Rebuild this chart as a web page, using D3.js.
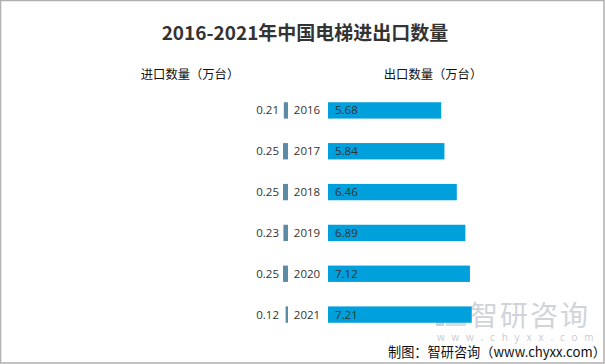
<!DOCTYPE html>
<html><head><meta charset="utf-8">
<script src="https://cdn.jsdelivr.net/npm/d3@7"></script>
<style>
html,body{margin:0;padding:0;background:#fff;}
svg{display:block;}
</style></head>
<body>
<svg id="chart" width="605" height="364"></svg>
<script>
const years = ["2016","2017","2018","2019","2020","2021"];
const importVals = [0.21,0.25,0.25,0.23,0.25,0.12];
const exportVals = [5.68,5.84,6.46,6.89,7.12,7.21];
const titleText = "2016-2021年中国电梯进出口数量";
const importTitle = "进口数量（万台）";
const exportTitle = "出口数量（万台）";
const sourceText = "制图：智研咨询（www.chyxx.com）";

const svg = d3.select("#chart");
const W = 605, H = 364;
const font = "'Noto Sans CJK SC','Noto Sans',sans-serif";
const numFont = "'Open Sans','Noto Sans',sans-serif";

svg.append("rect").attr("x",0.5).attr("y",0.5).attr("width",W-1.5).attr("height",H-1.5)
  .attr("fill","#fff").attr("stroke","#b0b0b0").attr("stroke-width",1.5);

// watermark
const wm = svg.append("g");
wm.append("rect").attr("x",436).attr("y",308).attr("width",28).attr("height",7).attr("fill","#c9d3dd");
wm.append("rect").attr("x",436).attr("y",318).attr("width",8).attr("height",8).attr("fill","#c9d3dd");
wm.append("rect").attr("x",446).attr("y",318).attr("width",20).attr("height",8).attr("fill","#d6dde5");
wm.append("text").attr("x",470).attr("y",326).attr("font-family",font).attr("font-size",28)
  .attr("fill","#d0d4da").attr("letter-spacing",2).text("智研咨询");
wm.append("text").attr("x",437).attr("y",341).attr("font-family",numFont).attr("font-size",10)
  .attr("fill","#c8ccd2").attr("letter-spacing",6.8).text("www.chyxx.com");

svg.append("text").attr("x",305).attr("y",40).attr("text-anchor","middle")
  .attr("font-family",font).attr("font-weight",700).attr("font-size",19).attr("fill","#333")
  .text(titleText);

svg.append("text").attr("x",190).attr("y",79).attr("text-anchor","middle")
  .attr("font-family",font).attr("font-size",12.3).attr("fill","#111").text(importTitle);
svg.append("text").attr("x",433).attr("y",79).attr("text-anchor","middle")
  .attr("font-family",font).attr("font-size",12.3).attr("fill","#111").text(exportTitle);

const y = d3.scaleBand().domain(years).range([90,335]).paddingInner(0.6).paddingOuter(0.3);
const xE = d3.scaleLinear().domain([0,8]).range([0,159.5]);
const exportX0 = 328, importX0 = 288;

const rows = svg.append("g").selectAll("g").data(years).join("g");

rows.append("rect")
  .attr("x",exportX0).attr("y",d=>y(d)).attr("height",y.bandwidth())
  .attr("width",(d,i)=>xE(exportVals[i])).attr("fill","#00a0dc");
rows.append("rect")
  .attr("x",(d,i)=>importX0-Math.max(2,xE(importVals[i])))
  .attr("y",d=>y(d)).attr("height",y.bandwidth())
  .attr("width",(d,i)=>Math.max(2,xE(importVals[i]))).attr("fill","#5b8ba5");

rows.append("text").attr("x",exportX0+7).attr("y",d=>y(d)+y.bandwidth()/2).attr("dy","0.35em")
  .attr("font-family",numFont).attr("font-size",11.5).attr("fill","#333")
  .text((d,i)=>exportVals[i].toFixed(2));
rows.append("text").attr("x",307).attr("y",d=>y(d)+y.bandwidth()/2).attr("dy","0.35em")
  .attr("text-anchor","middle").attr("font-family",numFont).attr("font-size",11.5).attr("fill","#333")
  .text(d=>d);
rows.append("text").attr("x",279).attr("y",d=>y(d)+y.bandwidth()/2).attr("dy","0.35em")
  .attr("text-anchor","end").attr("font-family",numFont).attr("font-size",11.5).attr("fill","#333")
  .text((d,i)=>importVals[i].toFixed(2));

svg.append("text").attr("x",388).attr("y",357).attr("text-anchor","start")
  .attr("font-family",font).attr("font-size",13.2).attr("fill","#111").text(sourceText);
</script>
</body></html>
